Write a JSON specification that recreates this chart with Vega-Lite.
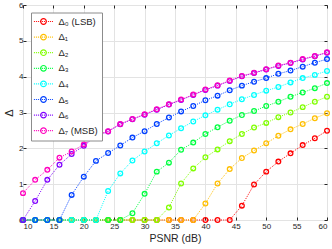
{
  "$schema": "https://vega.github.io/schema/vega-lite/v6.json",
  "width": 304,
  "height": 215,
  "autosize": {"type": "none"},
  "padding": {"left": 23, "top": 5, "right": 5, "bottom": 29},
  "background": "white",
  "config": {
    "font": "Liberation Sans",
    "view": {"stroke": "#262626", "strokeWidth": 1},
    "axis": {
      "labelFont": "Liberation Sans",
      "labelFontSize": 8,
      "labelColor": "#262626",
      "titleFont": "Liberation Sans",
      "titleFontWeight": "normal",
      "titleColor": "#262626",
      "domainColor": "#262626",
      "tickColor": "#262626",
      "gridColor": "#e3e3e3",
      "gridWidth": 1
    },
    "legend": {
      "labelFont": "Liberation Sans, DejaVu Sans",
      "labelFontSize": 9,
      "labelColor": "#262626"
    }
  },
  "data": {"values": [
    {"s":"Δ₀ (LSB)","x":10,"y":0},{"s":"Δ₀ (LSB)","x":12,"y":0},{"s":"Δ₀ (LSB)","x":14,"y":0},{"s":"Δ₀ (LSB)","x":16,"y":0},{"s":"Δ₀ (LSB)","x":18,"y":0},{"s":"Δ₀ (LSB)","x":20,"y":0},{"s":"Δ₀ (LSB)","x":22,"y":0},{"s":"Δ₀ (LSB)","x":24,"y":0},{"s":"Δ₀ (LSB)","x":26,"y":0},{"s":"Δ₀ (LSB)","x":28,"y":0},{"s":"Δ₀ (LSB)","x":30,"y":0},{"s":"Δ₀ (LSB)","x":32,"y":0},{"s":"Δ₀ (LSB)","x":34,"y":0},{"s":"Δ₀ (LSB)","x":36,"y":0},{"s":"Δ₀ (LSB)","x":38,"y":0},{"s":"Δ₀ (LSB)","x":40,"y":0},{"s":"Δ₀ (LSB)","x":42,"y":0},{"s":"Δ₀ (LSB)","x":44,"y":0},{"s":"Δ₀ (LSB)","x":46,"y":0.40},{"s":"Δ₀ (LSB)","x":48,"y":0.99},{"s":"Δ₀ (LSB)","x":50,"y":1.35},{"s":"Δ₀ (LSB)","x":52,"y":1.63},{"s":"Δ₀ (LSB)","x":54,"y":1.86},{"s":"Δ₀ (LSB)","x":56,"y":2.09},{"s":"Δ₀ (LSB)","x":58,"y":2.28},{"s":"Δ₀ (LSB)","x":60,"y":2.49},
    {"s":"Δ₁","x":10,"y":0},{"s":"Δ₁","x":12,"y":0},{"s":"Δ₁","x":14,"y":0},{"s":"Δ₁","x":16,"y":0},{"s":"Δ₁","x":18,"y":0},{"s":"Δ₁","x":20,"y":0},{"s":"Δ₁","x":22,"y":0},{"s":"Δ₁","x":24,"y":0},{"s":"Δ₁","x":26,"y":0},{"s":"Δ₁","x":28,"y":0},{"s":"Δ₁","x":30,"y":0},{"s":"Δ₁","x":32,"y":0},{"s":"Δ₁","x":34,"y":0},{"s":"Δ₁","x":36,"y":0},{"s":"Δ₁","x":38,"y":0},{"s":"Δ₁","x":40,"y":0.46},{"s":"Δ₁","x":42,"y":1.02},{"s":"Δ₁","x":44,"y":1.42},{"s":"Δ₁","x":46,"y":1.73},{"s":"Δ₁","x":48,"y":1.94},{"s":"Δ₁","x":50,"y":2.14},{"s":"Δ₁","x":52,"y":2.35},{"s":"Δ₁","x":54,"y":2.53},{"s":"Δ₁","x":56,"y":2.68},{"s":"Δ₁","x":58,"y":2.84},{"s":"Δ₁","x":60,"y":2.98},
    {"s":"Δ₂","x":10,"y":0},{"s":"Δ₂","x":12,"y":0},{"s":"Δ₂","x":14,"y":0},{"s":"Δ₂","x":16,"y":0},{"s":"Δ₂","x":18,"y":0},{"s":"Δ₂","x":20,"y":0},{"s":"Δ₂","x":22,"y":0},{"s":"Δ₂","x":24,"y":0},{"s":"Δ₂","x":26,"y":0},{"s":"Δ₂","x":28,"y":0},{"s":"Δ₂","x":30,"y":0},{"s":"Δ₂","x":32,"y":0},{"s":"Δ₂","x":34,"y":0.35},{"s":"Δ₂","x":36,"y":1.02},{"s":"Δ₂","x":38,"y":1.44},{"s":"Δ₂","x":40,"y":1.75},{"s":"Δ₂","x":42,"y":1.97},{"s":"Δ₂","x":44,"y":2.20},{"s":"Δ₂","x":46,"y":2.40},{"s":"Δ₂","x":48,"y":2.58},{"s":"Δ₂","x":50,"y":2.71},{"s":"Δ₂","x":52,"y":2.87},{"s":"Δ₂","x":54,"y":3.00},{"s":"Δ₂","x":56,"y":3.15},{"s":"Δ₂","x":58,"y":3.30},{"s":"Δ₂","x":60,"y":3.44},
    {"s":"Δ₃","x":10,"y":0},{"s":"Δ₃","x":12,"y":0},{"s":"Δ₃","x":14,"y":0},{"s":"Δ₃","x":16,"y":0},{"s":"Δ₃","x":18,"y":0},{"s":"Δ₃","x":20,"y":0},{"s":"Δ₃","x":22,"y":0},{"s":"Δ₃","x":24,"y":0},{"s":"Δ₃","x":26,"y":0},{"s":"Δ₃","x":28,"y":0.19},{"s":"Δ₃","x":30,"y":0.73},{"s":"Δ₃","x":32,"y":1.35},{"s":"Δ₃","x":34,"y":1.60},{"s":"Δ₃","x":36,"y":1.96},{"s":"Δ₃","x":38,"y":2.16},{"s":"Δ₃","x":40,"y":2.40},{"s":"Δ₃","x":42,"y":2.59},{"s":"Δ₃","x":44,"y":2.77},{"s":"Δ₃","x":46,"y":2.93},{"s":"Δ₃","x":48,"y":3.04},{"s":"Δ₃","x":50,"y":3.18},{"s":"Δ₃","x":52,"y":3.30},{"s":"Δ₃","x":54,"y":3.44},{"s":"Δ₃","x":56,"y":3.56},{"s":"Δ₃","x":58,"y":3.68},{"s":"Δ₃","x":60,"y":3.82},
    {"s":"Δ₄","x":10,"y":0},{"s":"Δ₄","x":12,"y":0},{"s":"Δ₄","x":14,"y":0},{"s":"Δ₄","x":16,"y":0},{"s":"Δ₄","x":18,"y":0},{"s":"Δ₄","x":20,"y":0},{"s":"Δ₄","x":22,"y":0},{"s":"Δ₄","x":24,"y":0.81},{"s":"Δ₄","x":26,"y":1.30},{"s":"Δ₄","x":28,"y":1.66},{"s":"Δ₄","x":30,"y":1.91},{"s":"Δ₄","x":32,"y":2.14},{"s":"Δ₄","x":34,"y":2.36},{"s":"Δ₄","x":36,"y":2.56},{"s":"Δ₄","x":38,"y":2.75},{"s":"Δ₄","x":40,"y":2.92},{"s":"Δ₄","x":42,"y":3.08},{"s":"Δ₄","x":44,"y":3.23},{"s":"Δ₄","x":46,"y":3.37},{"s":"Δ₄","x":48,"y":3.49},{"s":"Δ₄","x":50,"y":3.61},{"s":"Δ₄","x":52,"y":3.71},{"s":"Δ₄","x":54,"y":3.84},{"s":"Δ₄","x":56,"y":3.96},{"s":"Δ₄","x":58,"y":4.05},{"s":"Δ₄","x":60,"y":4.16},
    {"s":"Δ₅","x":10,"y":0},{"s":"Δ₅","x":12,"y":0},{"s":"Δ₅","x":14,"y":0},{"s":"Δ₅","x":16,"y":0},{"s":"Δ₅","x":18,"y":0.70},{"s":"Δ₅","x":20,"y":1.21},{"s":"Δ₅","x":22,"y":1.65},{"s":"Δ₅","x":24,"y":1.87},{"s":"Δ₅","x":26,"y":2.08},{"s":"Δ₅","x":28,"y":2.30},{"s":"Δ₅","x":30,"y":2.48},{"s":"Δ₅","x":32,"y":2.68},{"s":"Δ₅","x":34,"y":2.86},{"s":"Δ₅","x":36,"y":3.03},{"s":"Δ₅","x":38,"y":3.18},{"s":"Δ₅","x":40,"y":3.34},{"s":"Δ₅","x":42,"y":3.47},{"s":"Δ₅","x":44,"y":3.62},{"s":"Δ₅","x":46,"y":3.75},{"s":"Δ₅","x":48,"y":3.86},{"s":"Δ₅","x":50,"y":3.96},{"s":"Δ₅","x":52,"y":4.08},{"s":"Δ₅","x":54,"y":4.17},{"s":"Δ₅","x":56,"y":4.28},{"s":"Δ₅","x":58,"y":4.39},{"s":"Δ₅","x":60,"y":4.49},
    {"s":"Δ₆","x":10,"y":0},{"s":"Δ₆","x":12,"y":0.53},{"s":"Δ₆","x":14,"y":1.12},{"s":"Δ₆","x":16,"y":1.54},{"s":"Δ₆","x":18,"y":1.84},{"s":"Δ₆","x":20,"y":2.07},{"s":"Δ₆","x":22,"y":2.34},{"s":"Δ₆","x":24,"y":2.47},{"s":"Δ₆","x":26,"y":2.67},{"s":"Δ₆","x":28,"y":2.81},{"s":"Δ₆","x":30,"y":2.94},{"s":"Δ₆","x":32,"y":3.08},{"s":"Δ₆","x":34,"y":3.22},{"s":"Δ₆","x":36,"y":3.35},{"s":"Δ₆","x":38,"y":3.49},{"s":"Δ₆","x":40,"y":3.63},{"s":"Δ₆","x":42,"y":3.75},{"s":"Δ₆","x":44,"y":3.88},{"s":"Δ₆","x":46,"y":4.01},{"s":"Δ₆","x":48,"y":4.10},{"s":"Δ₆","x":50,"y":4.20},{"s":"Δ₆","x":52,"y":4.30},{"s":"Δ₆","x":54,"y":4.38},{"s":"Δ₆","x":56,"y":4.48},{"s":"Δ₆","x":58,"y":4.57},{"s":"Δ₆","x":60,"y":4.67},
    {"s":"Δ₇ (MSB)","x":10,"y":0.75},{"s":"Δ₇ (MSB)","x":12,"y":1.12},{"s":"Δ₇ (MSB)","x":14,"y":1.40},{"s":"Δ₇ (MSB)","x":16,"y":1.74},{"s":"Δ₇ (MSB)","x":18,"y":1.91},{"s":"Δ₇ (MSB)","x":20,"y":2.11},{"s":"Δ₇ (MSB)","x":22,"y":2.36},{"s":"Δ₇ (MSB)","x":24,"y":2.48},{"s":"Δ₇ (MSB)","x":26,"y":2.68},{"s":"Δ₇ (MSB)","x":28,"y":2.82},{"s":"Δ₇ (MSB)","x":30,"y":2.95},{"s":"Δ₇ (MSB)","x":32,"y":3.09},{"s":"Δ₇ (MSB)","x":34,"y":3.23},{"s":"Δ₇ (MSB)","x":36,"y":3.36},{"s":"Δ₇ (MSB)","x":38,"y":3.50},{"s":"Δ₇ (MSB)","x":40,"y":3.64},{"s":"Δ₇ (MSB)","x":42,"y":3.76},{"s":"Δ₇ (MSB)","x":44,"y":3.89},{"s":"Δ₇ (MSB)","x":46,"y":4.02},{"s":"Δ₇ (MSB)","x":48,"y":4.11},{"s":"Δ₇ (MSB)","x":50,"y":4.21},{"s":"Δ₇ (MSB)","x":52,"y":4.31},{"s":"Δ₇ (MSB)","x":54,"y":4.39},{"s":"Δ₇ (MSB)","x":56,"y":4.49},{"s":"Δ₇ (MSB)","x":58,"y":4.58},{"s":"Δ₇ (MSB)","x":60,"y":4.68}
  ]},
  "resolve": {"axis": {"x": "independent", "y": "independent"}},
  "layer": [
    {
      "mark": {"type": "line", "strokeWidth": 1, "strokeDash": [1, 1.2]},
      "encoding": {
        "x": {"field": "x", "type": "quantitative", "scale": {"domain": [10, 60], "nice": false},
          "axis": {"orient": "bottom", "title": "PSNR (dB)", "titleFontSize": 10.5, "values": [10,15,20,25,30,35,40,45,50,55,60], "tickSize": -3, "labelPadding": 5, "titlePadding": 3, "domain": false}},
        "y": {"field": "y", "type": "quantitative", "scale": {"domain": [0, 6], "nice": false},
          "axis": {"orient": "left", "title": "Δ", "titleFontSize": 11, "values": [0,1,2,3,4,5,6], "tickSize": -3, "labelPadding": 3, "titlePadding": 4, "domain": false}},
        "color": {"field": "s", "type": "nominal",
          "scale": {"domain": ["Δ₀ (LSB)","Δ₁","Δ₂","Δ₃","Δ₄","Δ₅","Δ₆","Δ₇ (MSB)"],
                    "range": ["#FF0000","#FFBF00","#80FF00","#00FF40","#00FFFF","#0040FF","#8000FF","#FF00BF"]},
          "legend": {
            "title": null, "orient": "none", "legendX": 8, "legendY": 7.5,
            "fillColor": "white", "strokeColor": "#8c8c8c", "padding": 4,
            "symbolType": "M-2.4,0h0.25m0.25,0h0.25m0.25,0h0.25m0.25,0h0.25m0.25,0h0.25m0.25,0h0.25m0.25,0h0.25m0.25,0h0.25m0.25,0h0.25m0.25,0h0.25M-0.7,0a0.7,0.7 0 1,0 1.4,0a0.7,0.7 0 1,0 -1.4,0",
            "symbolSize": 64, "symbolStrokeWidth": 1.2, "symbolOffset": 3.5, "symbolFillColor": "transparent",
            "labelOffset": 10, "rowPadding": 3.6, "labelFontSize": 9.5
          }}
      }
    },
    {
      "mark": {"type": "point", "filled": false, "size": 22, "strokeWidth": 1.3, "opacity": 1},
      "encoding": {
        "x": {"field": "x", "type": "quantitative",
          "axis": {"orient": "top", "labels": false, "title": null, "grid": false, "domain": false, "values": [10,15,20,25,30,35,40,45,50,55,60], "tickSize": -3}},
        "y": {"field": "y", "type": "quantitative",
          "axis": {"orient": "right", "labels": false, "title": null, "grid": false, "domain": false, "values": [0,1,2,3,4,5,6], "tickSize": -3}},
        "color": {"field": "s", "type": "nominal"}
      }
    }
  ]
}
